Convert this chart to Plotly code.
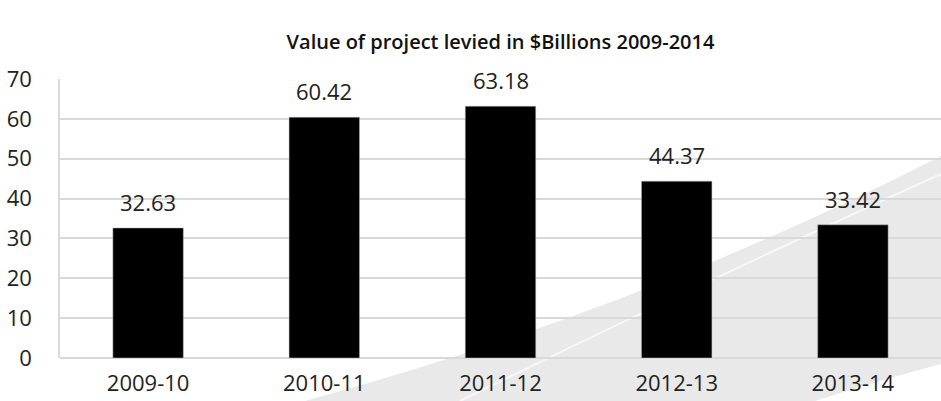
import plotly.graph_objects as go

categories = ["2009-10", "2010-11", "2011-12", "2012-13", "2013-14"]
values = [32.63, 60.42, 63.18, 44.37, 33.42]
y_ticks = [0, 10, 20, 30, 40, 50, 60, 70]
title_text = "Value of project levied in $Billions 2009-2014"

W, H = 941, 401
L, R, T, B = 60, 0, 79, 43
pw, ph = W - L - R, H - T - B

def px(x):
    return (x - L) / pw

def py(y):
    return (H - B - y) / ph

FONT = "Open Sans"

fig = go.Figure()
fig.add_trace(go.Bar(
    x=categories, y=values,
    marker=dict(color="#000000", line=dict(color="#bfbfbf", width=0.5)),
    width=0.4,
    hoverinfo="skip",
))

for c, v in zip(categories, values):
    fig.add_annotation(x=c, y=v, text=f"{v:.2f}", showarrow=False,
                       yanchor="bottom", yshift=9,
                       font=dict(family=FONT, size=22, color="#222222"))

# decorative background band
band = (f"M {px(305)},{py(401)} Q {px(640)},{py(310)} {px(941)},{py(156)} "
        f"L {px(941)},{py(364)} Q {px(880)},{py(380)} {px(815)},{py(401)} Z")
fig.add_shape(type="path", path=band, xref="paper", yref="paper",
              fillcolor="#e9e9e9", line=dict(width=0), layer="below")
inner = f"M {px(460)},{py(401)} Q {px(690)},{py(288)} {px(941)},{py(174)}"
fig.add_shape(type="path", path=inner, xref="paper", yref="paper",
              line=dict(color="#f8f8f8", width=2), layer="below")

fig.update_layout(
    width=W, height=H,
    margin=dict(l=L, r=R, t=T, b=B),
    paper_bgcolor="rgba(0,0,0,0)", plot_bgcolor="rgba(0,0,0,0)",
    showlegend=False,
    title=dict(text=title_text, x=0.5, xref="paper", y=1 - 42 / H, yanchor="middle",
               font=dict(family=FONT, size=20, color="#111111", weight=600)),
    bargap=0.6,
)
fig.update_xaxes(type="category", showgrid=False, showline=False, zeroline=False,
                 tickfont=dict(family=FONT, size=22, color="#222222"),
                 ticklabelstandoff=10)
fig.update_yaxes(range=[0, 70], tickvals=y_ticks, showgrid=True,
                 gridcolor="#d9d9d9", gridwidth=1.5, zeroline=True,
                 zerolinecolor="#d9d9d9", zerolinewidth=1.5,
                 showline=True, linecolor="#d9d9d9", linewidth=1.5,
                 tickfont=dict(family=FONT, size=22, color="#222222"),
                 ticklabelstandoff=22)

fig.write_html("out.html")
